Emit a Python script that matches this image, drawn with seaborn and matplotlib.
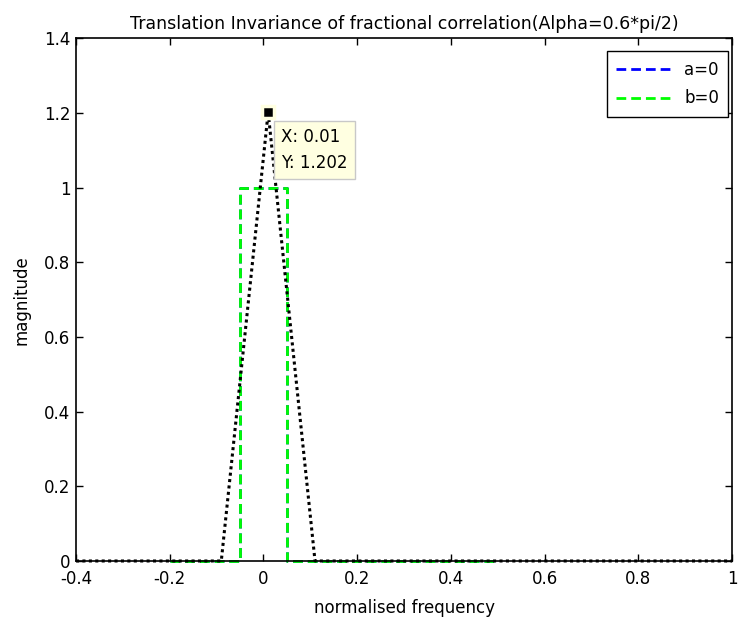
import numpy as np
import pandas as pd
import matplotlib
matplotlib.use('Agg')
import matplotlib.pyplot as plt
import seaborn as sns

# rectangular pulses a and b (identical, b drawn over a)
x_pulse = [-0.2, -0.05, -0.05, 0.05, 0.05, 0.5]
a_pulse = [0, 0, 1, 1, 0, 0]
b_pulse = [0, 0, 1, 1, 0, 0]

# fractional correlation (triangle)
x_corr = [-0.4, -0.09, 0.01, 0.11, 1.0]
y_corr = [0, 0, 1.202, 0, 0]

peak_x = 0.01
peak_y = 1.202

xticks = [-0.4, -0.2, 0, 0.2, 0.4, 0.6, 0.8, 1.0]
xticklabels = ['-0.4', '-0.2', '0', '0.2', '0.4', '0.6', '0.8', '1']
yticks = [0, 0.2, 0.4, 0.6, 0.8, 1.0, 1.2, 1.4]
yticklabels = ['0', '0.2', '0.4', '0.6', '0.8', '1', '1.2', '1.4']

sns.set_style('white')
plt.rcParams['font.family'] = ['DejaVu Sans']
plt.rcParams['text.color'] = 'black'
plt.rcParams['axes.labelcolor'] = 'black'
fs = 12

fig = plt.figure(figsize=(7.38, 6.17), dpi=100)
ax = fig.add_axes([0.103, 0.0908, 0.889, 0.847])

df_a = pd.DataFrame({'x': x_pulse, 'y': a_pulse})
df_b = pd.DataFrame({'x': x_pulse, 'y': b_pulse})
df_c = pd.DataFrame({'x': x_corr, 'y': y_corr})

sns.lineplot(data=df_a, x='x', y='y', ax=ax, sort=False, estimator=None,
             color='#0000ff', lw=2, ls=(0, (3.5, 1.8)), label='a=0', clip_on=False)
sns.lineplot(data=df_b, x='x', y='y', ax=ax, sort=False, estimator=None,
             color='#00ff00', lw=2, ls=(0, (3.5, 1.8)), label='b=0', clip_on=False)
sns.lineplot(data=df_c, x='x', y='y', ax=ax, sort=False, estimator=None,
             color='black', lw=2.2, ls=(0, (1, 1.1)), clip_on=False)

# data tip
ax.plot([peak_x], [peak_y], marker='s', ms=9, color='black', mec='#ffffe1', mew=2.5,
        zorder=5, clip_on=False)
ax.annotate(f'X: {peak_x}\nY: {peak_y}', xy=(peak_x, peak_y), xytext=(13, -16),
            textcoords='offset pixels', ha='left', va='top', fontsize=fs, linespacing=1.55,
            color='black',
            bbox=dict(boxstyle='square,pad=0.45', fc='#ffffe1', ec='#c8c8c8', lw=1),
            zorder=6)

ax.set_xlim(-0.4, 1.0)
ax.set_ylim(0, 1.4)
ax.set_xticks(xticks)
ax.set_xticklabels(xticklabels, fontsize=fs)
ax.set_yticks(yticks)
ax.set_yticklabels(yticklabels, fontsize=fs)
ax.tick_params(direction='in', length=5, width=1, top=True, right=True,
               bottom=True, left=True, colors='black')
ax.tick_params(axis='x', pad=6.5)
ax.tick_params(axis='y', pad=4)
for s in ax.spines.values():
    s.set_visible(True)
    s.set_color('black')
    s.set_linewidth(1.2)

ax.set_xlabel('normalised frequency', fontsize=fs, labelpad=8)
ax.set_ylabel('magnitude', fontsize=fs, labelpad=10)
ax.set_title('Translation Invariance of fractional correlation(Alpha=0.6*pi/2)',
             fontsize=12.5, pad=7, color='black')

handles, labels = ax.get_legend_handles_labels()
leg = ax.legend(handles[:2], labels[:2], loc='upper right', fontsize=fs,
                bbox_to_anchor=(0.994, 0.975), borderaxespad=0,
                frameon=True, fancybox=False, edgecolor='black', framealpha=1,
                handlelength=3.3, borderpad=0.55,
                labelspacing=0.65, handletextpad=0.8)
leg.get_frame().set_linewidth(1)

fig.savefig('out.png', dpi=100, facecolor='white')
